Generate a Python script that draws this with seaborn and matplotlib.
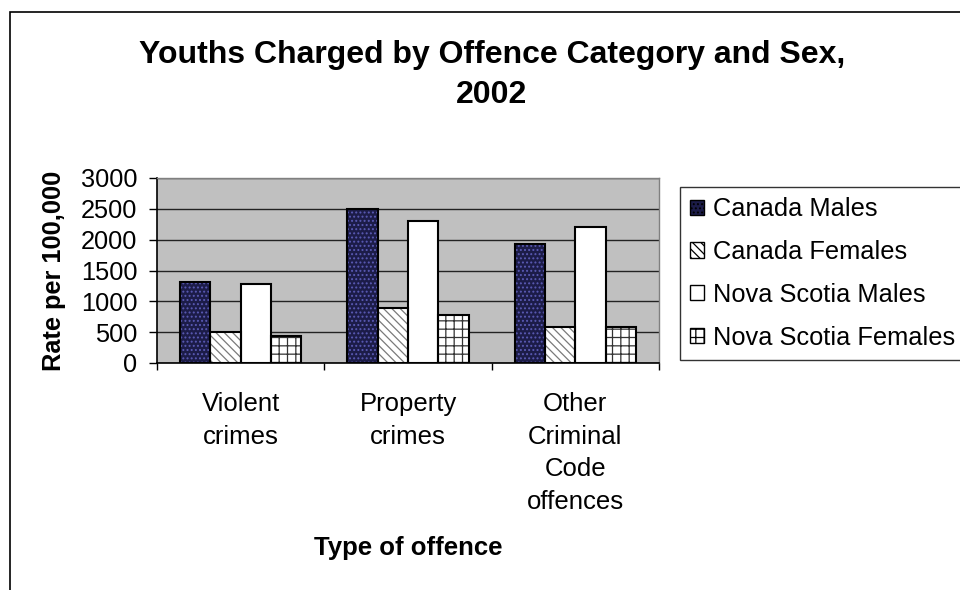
import matplotlib
matplotlib.use("Agg")
import matplotlib.pyplot as plt
import seaborn as sns
import pandas as pd
from matplotlib.patches import Rectangle, Patch

categories = ["Violent\ncrimes", "Property\ncrimes", "Other\nCriminal\nCode\noffences"]
series = ["Canada Males", "Canada Females", "Nova Scotia Males", "Nova Scotia Females"]
canada_males = [1310, 2495, 1935]
canada_females = [500, 895, 585]
ns_males = [1280, 2300, 2200]
ns_females = [445, 775, 585]
yticks = [0, 500, 1000, 1500, 2000, 2500, 3000]

values = [canada_males, canada_females, ns_males, ns_females]
rows = []
for s, vals in zip(series, values):
    for c, v in zip(categories, vals):
        rows.append({"Type of offence": c, "Series": s, "Rate": v})
df = pd.DataFrame(rows)

sns.set_style("white")
plt.rcParams["font.family"] = ["Liberation Sans", "DejaVu Sans"]
plt.rcParams["hatch.linewidth"] = 0.9
for k in ["text.color", "axes.labelcolor", "xtick.color", "ytick.color"]:
    plt.rcParams[k] = "black"

styles = {
    "Canada Males": dict(face="#1c1c48", hatch="....", hcolor="#5a5ab4"),
    "Canada Females": dict(face="white", hatch="\\\\\\\\", hcolor="#7a7a7a"),
    "Nova Scotia Males": dict(face="white", hatch="", hcolor="white"),
    "Nova Scotia Females": dict(face="white", hatch="++", hcolor="#333333"),
}

fig = plt.figure(figsize=(9.6, 5.9), dpi=100)
ax = fig.add_axes([157/960, 1-363/590, 502/960, 185/590])
ax.set_facecolor("#c0c0c0")

sns.barplot(data=df, x="Type of offence", y="Rate", hue="Series", order=categories,
            hue_order=series, width=0.725, gap=0, ax=ax, legend=False,
            palette=["white"]*4, saturation=1, err_kws={"linewidth": 0})

for s, cont in zip(series, ax.containers):
    st = styles[s]
    for p in cont:
        p.set_facecolor(st["face"])
        p.set_hatch(st["hatch"])
        p.set_edgecolor(st["hcolor"])
        p.set_linewidth(0)
        x, y = p.get_xy()
        ax.add_patch(Rectangle((x, y), p.get_width(), p.get_height(), fill=False,
                               edgecolor="black", linewidth=1.5, zorder=p.get_zorder()+0.1))

ax.set_ylim(0, 3000)
ax.set_xlim(-0.5, 2.5)
ax.set_yticks(yticks)
ax.set_yticklabels([str(t) for t in yticks], fontsize=18.3)
ax.yaxis.grid(True, color="#222222", linewidth=1.0)
ax.set_axisbelow(True)
ax.tick_params(axis="y", which="major", length=6, width=1, color="black", pad=8, left=True)
ax.set_xticks(range(3))
ax.set_xticklabels(categories, fontsize=18.5, linespacing=1.45)
ax.tick_params(axis="x", which="major", length=0, pad=21)
ax.set_xticks([-0.5, 0.5, 1.5, 2.5], minor=True)
ax.tick_params(axis="x", which="minor", length=5, width=1, color="black", bottom=True)

for side in ["top", "right"]:
    ax.spines[side].set_color("#808080")
    ax.spines[side].set_linewidth(1)
ax.spines["left"].set_color("black")
ax.spines["bottom"].set_color("black")
ax.spines["left"].set_linewidth(1.2)
ax.spines["bottom"].set_linewidth(1.2)

ax.set_xlabel("Type of offence", fontsize=18.5, fontweight="bold", labelpad=16)
ax.set_ylabel("Rate per 100,000", fontsize=18.3, fontweight="bold", labelpad=11)

fig.text(492/960, 1-55/590, "Youths Charged by Offence Category and Sex,", ha="center",
         va="center", fontsize=23, fontweight="bold")
fig.text(492/960, 1-95/590, "2002", ha="center", va="center", fontsize=23, fontweight="bold")

handles = []
for s in series:
    st = styles[s]
    handles.append(Patch(facecolor=st["face"], hatch=st["hatch"], edgecolor="black", linewidth=1))
leg = fig.legend(handles, series, loc="upper left", bbox_to_anchor=(680/960, 1-187/590),
                 fontsize=18.3, frameon=True, fancybox=False, edgecolor="black",
                 handlelength=0.55, handleheight=0.55, handletextpad=0.35,
                 labelspacing=0.74, borderpad=0.4, borderaxespad=0)
leg.get_frame().set_linewidth(1)

fig.patches.append(Rectangle((10/960, -0.1), 1.2, 1.1 - 12/590, transform=fig.transFigure,
                             fill=False, edgecolor="black", linewidth=1.2, figure=fig))

fig.savefig("out.png", dpi=100)
